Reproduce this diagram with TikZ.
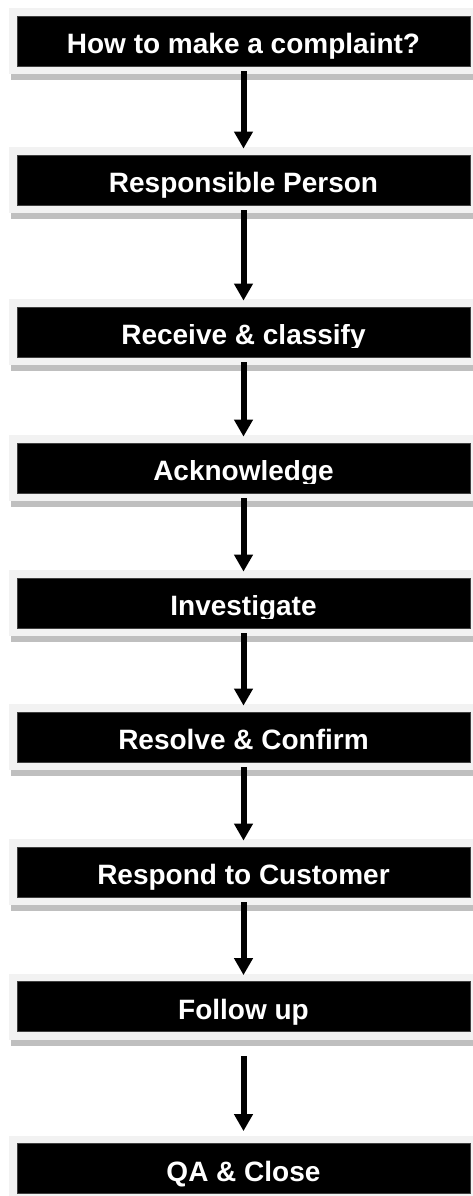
\documentclass[tikz,border=0pt]{standalone}
\usepackage{fontspec}
\setmainfont{Liberation Sans}
\usepackage{trimclip}
\usetikzlibrary{arrows.meta}
\definecolor{framegrey}{RGB}{242,242,242}
\definecolor{shadegrey}{RGB}{191,191,191}
% text whose descenders are cut off
\newcommand{\cuttext}[1]{\clipbox{0pt 3pt 0pt 0pt}{#1}}
\begin{document}
\begin{tikzpicture}[x=1pt,y=-1pt,
  stepbox/.style={fill=black,draw=black!75,line width=0.8pt,minimum width=453pt,minimum height=50pt,inner sep=0pt,
    text=white,font=\fontsize{28}{30}\selectfont\bfseries,text height=25pt,text depth=0pt},
  flow/.style={line width=6pt,-{Triangle[width=18pt,length=17pt]}}]
\clip (0,0) rectangle (473,1196);
% frames and shadows
\foreach \t in {16,155,307,443,578,712,847,982,1144} {
  \fill[framegrey] (9,\t-8) rectangle (480,\t+58);
  \fill[shadegrey] (11,\t+58) rectangle (480,\t+64);
}
\node[stepbox] (ask) at (243.5,41) {How to make a complaint?};
\node[stepbox] (person) at (243.5,180) {Responsible Person};
\node[stepbox] (receive) at (243.5,332) {\cuttext{Receive \& classify}};
\node[stepbox] (ack) at (243.5,468) {\cuttext{Acknowledge}};
\node[stepbox] (invest) at (243.5,603) {\cuttext{Investigate}};
\node[stepbox] (resolve) at (243.5,737) {Resolve \& Confirm};
\node[stepbox] (respond) at (243.5,872) {Respond to Customer};
\node[stepbox] (follow) at (243.5,1006.5) {Follow up};
\node[stepbox] (close) at (243.5,1168.5) {QA \& Close};
% arrows
\foreach \a/\b in {ask/person,person/receive,receive/ack,ack/invest,invest/resolve,resolve/respond,respond/follow}
  \draw[flow] ([yshift=-5pt]\a.south) -- ([yshift=6pt]\b.north);
\draw[flow] ([yshift=-24pt]follow.south) -- ([yshift=12pt]close.north);
\end{tikzpicture}
\end{document}
